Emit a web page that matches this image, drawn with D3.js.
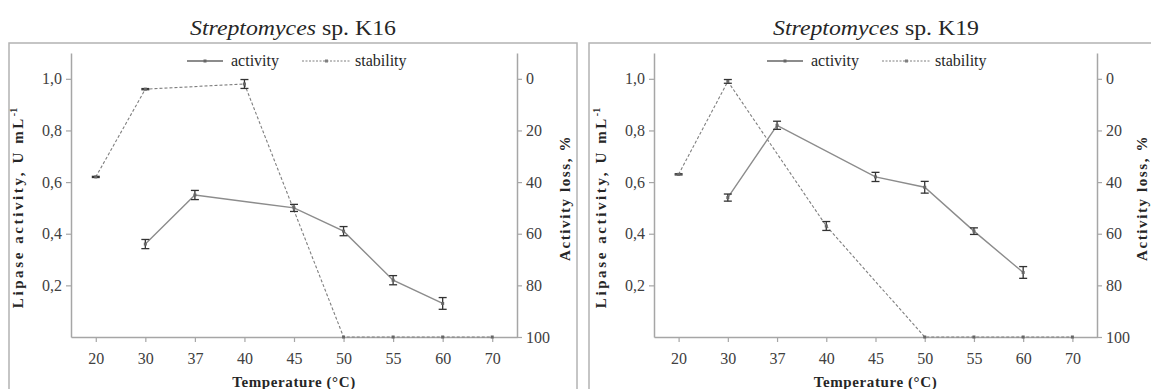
<!DOCTYPE html>
<html>
<head>
<meta charset="utf-8">
<script src="https://cdn.jsdelivr.net/npm/d3@7"></script>
<style>
    body { margin: 0; background: white; }
    svg { display: block; font-family: "Liberation Serif", "Times New Roman", serif; }
</style>
</head>
<body>
<svg id="chart" width="1151" height="389"></svg>
<script>
// Temperature categories (x axis, equally spaced)
let temperatures = ["20", "30", "37", "40", "45", "50", "55", "60", "70"];

// Streptomyces sp. K16
let k16_activity = [
    {t: "30", v: 0.36, e: 0.010}, {t: "37", v: 0.55, e: 0.010}, {t: "45", v: 0.50, e: 0.006},
    {t: "50", v: 0.41, e: 0.010}, {t: "55", v: 0.22, e: 0.010}, {t: "60", v: 0.13, e: 0.015}
];
let k16_stability = [
    {t: "20", v: 38, e: 1.0}, {t: "30", v: 4, e: 1.0}, {t: "40", v: 2, e: 2.5},
    {t: "50", v: 100, e: 0}, {t: "55", v: 100, e: 0}, {t: "60", v: 100, e: 0}, {t: "70", v: 100, e: 0}
];

// Streptomyces sp. K19
let k19_activity = [
    {t: "30", v: 0.54, e: 0.006}, {t: "37", v: 0.82, e: 0.008}, {t: "45", v: 0.62, e: 0.010},
    {t: "50", v: 0.58, e: 0.015}, {t: "55", v: 0.41, e: 0.005}, {t: "60", v: 0.25, e: 0.015}
];
let k19_stability = [
    {t: "20", v: 37, e: 1.0}, {t: "30", v: 1, e: 1.5}, {t: "40", v: 57, e: 2.5},
    {t: "50", v: 100, e: 0}, {t: "55", v: 100, e: 0}, {t: "60", v: 100, e: 0}, {t: "70", v: 100, e: 0}
];

// Axis tick values
let left_ticks = [0.2, 0.4, 0.6, 0.8, 1.0];
let right_ticks = [0, 20, 40, 60, 80, 100];

let panels = [
    {name: "K16", activity: k16_activity, stability: k16_stability,
     box: [9, 577], x0: 71, x1: 517, legend: 187, ylab: 14, y2lab: 53},
    {name: "K19", activity: k19_activity, stability: k19_stability,
     box: [589, 1163], x0: 654, x1: 1097, legend: 767, ylab: 17, y2lab: 50}
];

let svg = d3.select("#chart"),
    ytop = 53,
    ybottom = 337,
    axis_color = "#a6a6a6",
    text_color = "#404040",
    title_color = "#262626";

panels.forEach(function(p) {
    let g = svg.append("g");

    let x = d3.scalePoint()
        .domain(temperatures)
        .range([p.x0, p.x1])
        .padding(0.5);
    // Left axis: lipase activity
    let y = d3.scaleLinear()
        .domain([0, 1.1])
        .range([ybottom, ytop]);
    // Right axis: activity loss, 0 on top, 100 at the bottom
    let y2 = d3.scaleLinear()
        .domain([100, -10])
        .range([ybottom, ytop]);

    // Frame box
    g.append("rect")
        .attr("x", p.box[0])
        .attr("y", 43)
        .attr("width", p.box[1] - p.box[0])
        .attr("height", 400)
        .attr("fill", "none")
        .attr("stroke", "#b3b3b3")
        .attr("stroke-width", 1.5);

    // Title (stretched a little, as in the original)
    let title = g.append("text")
        .attr("x", (p.box[0] + p.box[1]) / 2)
        .attr("y", 35)
        .attr("text-anchor", "middle")
        .attr("textLength", 206)
        .attr("lengthAdjust", "spacingAndGlyphs")
        .style("font-size", "21px")
        .attr("fill", title_color);
    title.append("tspan").style("font-style", "italic").text("Streptomyces");
    title.append("tspan").text(" sp. " + p.name);

    // Axes
    let xaxis = g.append("g")
        .attr("transform", "translate(0," + ybottom + ")")
        .call(d3.axisBottom(x).tickSize(5).tickSizeOuter(0));
    let yaxis = g.append("g")
        .attr("transform", "translate(" + p.x0 + ",0)")
        .call(d3.axisLeft(y).tickValues(left_ticks).tickSize(5).tickSizeOuter(0)
            .tickFormat(d => d3.format(".1f")(d).replace(".", ",")));
    let y2axis = g.append("g")
        .attr("transform", "translate(" + p.x1 + ",0)")
        .call(d3.axisRight(y2).tickValues(right_ticks).tickSize(5).tickSizeOuter(0));

    [xaxis, yaxis, y2axis].forEach(function(a) {
        a.select(".domain").attr("stroke", axis_color).attr("stroke-width", 1.5);
        a.selectAll(".tick line").attr("stroke", axis_color).attr("stroke-width", 1.2);
        a.selectAll(".tick text")
            .attr("fill", text_color)
            .style("font-size", "16px")
            .style("font-family", "Liberation Serif");
    });
    xaxis.selectAll(".tick text").attr("y", 8).attr("dy", "1.2em");
    yaxis.selectAll(".tick text").attr("x", -9);
    y2axis.selectAll(".tick text").attr("x", 9);

    // Axis titles
    let ylabel = g.append("text")
        .attr("transform", "translate(" + (p.box[0] + p.ylab) + "," + 208 + ") rotate(-90)")
        .attr("text-anchor", "middle")
        .style("font-size", "15px")
        .style("font-weight", "bold")
        .style("letter-spacing", "2.6px")
        .attr("fill", title_color);
    ylabel.append("tspan").text("Lipase activity, U mL");
    ylabel.append("tspan").attr("dy", -6).style("font-size", "10px").style("letter-spacing", "0px").text("-1");

    g.append("text")
        .attr("transform", "translate(" + (p.x1 + p.y2lab) + "," + 198 + ") rotate(-90)")
        .attr("text-anchor", "middle")
        .style("font-size", "15px")
        .style("font-weight", "bold")
        .style("letter-spacing", "1.6px")
        .attr("fill", title_color)
        .text("Activity loss, %");

    g.append("text")
        .attr("x", (p.x0 + p.x1) / 2)
        .attr("y", 387)
        .attr("text-anchor", "middle")
        .style("font-size", "15px")
        .style("font-weight", "bold")
        .style("letter-spacing", "0.6px")
        .attr("fill", title_color)
        .text("Temperature  (°C)");

    // Stability (dashed, right axis)
    g.append("path")
        .datum(p.stability)
        .attr("d", d3.line().x(d => x(d.t)).y(d => y2(d.v)))
        .attr("fill", "none")
        .attr("stroke", "#7f7f7f")
        .attr("stroke-width", 1.1)
        .attr("stroke-dasharray", "3,2");

    // Activity (solid, left axis)
    g.append("path")
        .datum(p.activity)
        .attr("d", d3.line().x(d => x(d.t)).y(d => y(d.v)))
        .attr("fill", "none")
        .attr("stroke", "#8c8c8c")
        .attr("stroke-width", 1.4);

    // Error bars and markers
    let draw_errors = function(data, scale) {
        let eb = g.append("g")
            .selectAll("g")
            .data(data.filter(d => d.e > 0))
            .join("g")
            .attr("stroke", "#333333")
            .attr("stroke-width", 1.3);
        eb.append("line")
            .attr("x1", d => x(d.t)).attr("x2", d => x(d.t))
            .attr("y1", d => scale(d.v - d.e) + 2).attr("y2", d => scale(d.v + d.e) - 2);
        eb.append("line")
            .attr("x1", d => x(d.t) - 4).attr("x2", d => x(d.t) + 4)
            .attr("y1", d => scale(d.v - d.e) + 2).attr("y2", d => scale(d.v - d.e) + 2);
        eb.append("line")
            .attr("x1", d => x(d.t) - 4).attr("x2", d => x(d.t) + 4)
            .attr("y1", d => scale(d.v + d.e) - 2).attr("y2", d => scale(d.v + d.e) - 2);
        g.append("g")
            .selectAll("rect")
            .data(data)
            .join("rect")
            .attr("x", d => x(d.t) - 1.5)
            .attr("y", d => scale(d.v) - 1.5)
            .attr("width", 3)
            .attr("height", 3)
            .attr("fill", "#666666");
    };
    draw_errors(p.stability, y2);
    draw_errors(p.activity, y);

    // Legend
    let lg = g.append("g")
        .attr("transform", "translate(" + p.legend + ",61)");
    lg.append("line")
        .attr("x1", 0).attr("x2", 36)
        .attr("stroke", "#666666")
        .attr("stroke-width", 1.3);
    lg.append("rect")
        .attr("x", 16.5).attr("y", -1.5).attr("width", 3).attr("height", 3)
        .attr("fill", "#666666");
    lg.append("text")
        .attr("x", 44).attr("y", 5)
        .style("font-size", "16px")
        .attr("fill", title_color)
        .text("activity");
    lg.append("line")
        .attr("x1", 115).attr("x2", 164)
        .attr("stroke", "#7f7f7f")
        .attr("stroke-width", 1)
        .attr("stroke-dasharray", "2,1.5");
    lg.append("rect")
        .attr("x", 138).attr("y", -1.5).attr("width", 3).attr("height", 3)
        .attr("fill", "#7f7f7f");
    lg.append("text")
        .attr("x", 168).attr("y", 5)
        .style("font-size", "16px")
        .attr("fill", title_color)
        .text("stability");
});
</script>
</body>
</html>
